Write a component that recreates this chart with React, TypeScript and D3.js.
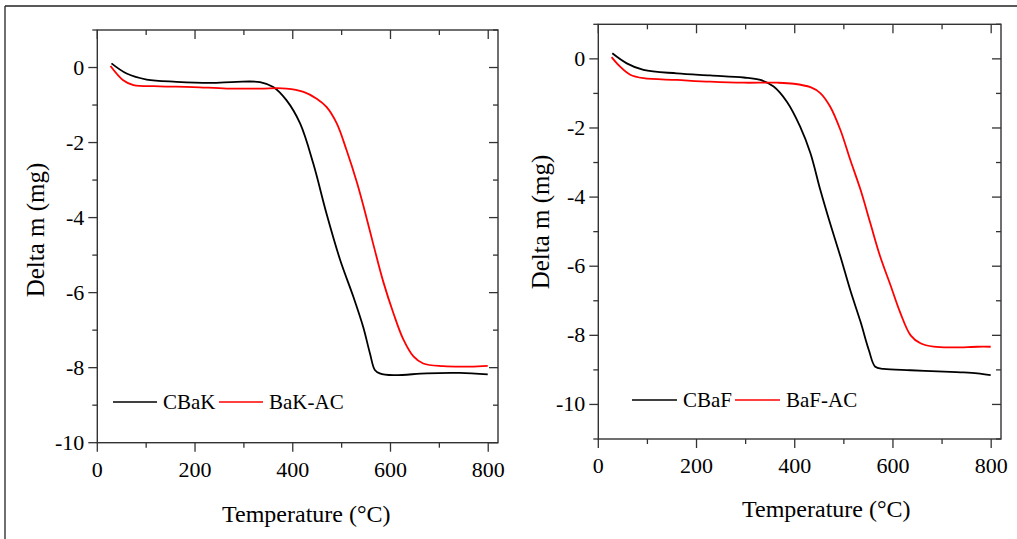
import React from "react";
import * as d3 from "d3";

const cbakT = [29, 60, 101, 162, 231, 285, 333, 360, 387, 415, 442, 469, 497, 524, 544, 558, 568, 578, 606, 674, 742, 799];
const cbakM = [0.11, -0.16, -0.32, -0.38, -0.41, -0.38, -0.39, -0.52, -0.87, -1.49, -2.56, -3.89, -5.13, -6.11, -6.91, -7.62, -8.06, -8.15, -8.2, -8.15, -8.14, -8.18];
const bakacT = [27, 53, 74, 128, 196, 265, 333, 387, 422, 449, 469, 490, 510, 531, 544, 565, 585, 606, 626, 647, 667, 708, 763, 799];
const bakacM = [0.04, -0.34, -0.47, -0.5, -0.52, -0.56, -0.56, -0.56, -0.65, -0.83, -1.05, -1.49, -2.2, -3.05, -3.66, -4.72, -5.7, -6.55, -7.24, -7.7, -7.89, -7.96, -7.97, -7.95];
const cbafT = [28.5, 58, 92, 160, 228, 296, 330, 357, 384, 411, 432, 452, 472, 493, 513, 534, 551, 564, 581, 636, 704, 738, 772, 799];
const cbafM = [0.16, -0.13, -0.32, -0.42, -0.48, -0.54, -0.61, -0.8, -1.24, -1.96, -2.73, -3.79, -4.76, -5.72, -6.69, -7.61, -8.43, -8.91, -8.97, -9.01, -9.05, -9.07, -9.1, -9.15];
const bafacT = [27, 44, 65, 92, 160, 228, 296, 364, 398, 432, 452, 472, 493, 513, 534, 554, 574, 595, 615, 636, 656, 683, 724, 772, 799];
const bafacM = [0.05, -0.22, -0.46, -0.56, -0.61, -0.66, -0.69, -0.69, -0.72, -0.82, -0.99, -1.38, -2.06, -2.92, -3.79, -4.76, -5.72, -6.55, -7.35, -8.0, -8.23, -8.33, -8.35, -8.33, -8.33];

const xMajor = [0, 200, 400, 600, 800];
const xMinor = [100, 300, 500, 700];
const yMajor = [0, -2, -4, -6, -8, -10];

const FONT = "'Times New Roman', 'Liberation Serif', Times, serif";
const AX = "#333";

type Panel = {
  left: number; right: number; top: number; bottom: number;
  yDomain: [number, number];
  yMinor: number[];
  series: { t: number[]; m: number[]; color: string; name: string }[];
  legend: { y: number; x0: number; gap: number; lineW: number; textW: number[] };
  xTitle: { dx: number; y: number };
  yTitle: { x: number; y: number };
};

const panels: Panel[] = [
  {
    left: 97.3, right: 498, top: 30, bottom: 442.7,
    yDomain: [-10, 1],
    yMinor: [-9, -7, -5, -3, -1, 1],
    series: [
      { t: cbakT, m: cbakM, color: "#000", name: "CBaK" },
      { t: bakacT, m: bakacM, color: "#f00", name: "BaK-AC" },
    ],
    legend: { y: 402, x0: 113, gap: 6, lineW: 44, textW: [50, 72] },
    xTitle: { dx: 209, y: 522 },
    yTitle: { x: 44, y: 230 },
  },
  {
    left: 598.3, right: 1001, top: 24.3, bottom: 439,
    yDomain: [-11, 1],
    yMinor: [-11, -9, -7, -5, -3, -1, 1],
    series: [
      { t: cbafT, m: cbafM, color: "#000", name: "CBaF" },
      { t: bafacT, m: bafacM, color: "#f00", name: "BaF-AC" },
    ],
    legend: { y: 400, x0: 632, gap: 6, lineW: 45, textW: [46, 70] },
    xTitle: { dx: 228, y: 517 },
    yTitle: { x: 549, y: 222 },
  },
];

function PanelView({ p }: { p: Panel }) {
  const x = d3.scaleLinear().domain([0, 820]).range([p.left, p.right]);
  const y = d3.scaleLinear().domain(p.yDomain).range([p.bottom, p.top]);
  const line = d3.line<[number, number]>().x((d) => x(d[0])).y((d) => y(d[1])).curve(d3.curveCatmullRom.alpha(0.5));
  const MAJ = 9, MIN = 5;
  let lx = p.legend.x0;
  const legendItems = p.series.map((s, i) => {
    const item = { x1: lx, x2: lx + p.legend.lineW, tx: lx + p.legend.lineW + p.legend.gap, s };
    lx = item.tx + p.legend.textW[i] + p.legend.gap;
    return item;
  });
  return (
    <g>
      {p.series.map((s, i) => (
        <path key={i} d={line(s.t.map((t, j) => [t, s.m[j]]) as [number, number][]) || ""} fill="none" stroke={s.color} strokeWidth={1.8} />
      ))}
      <rect x={p.left} y={p.top} width={p.right - p.left} height={p.bottom - p.top} fill="none" stroke={AX} strokeWidth={1.4} />
      {xMajor.map((v) => (
        <g key={"xm" + v}>
          <line x1={x(v)} x2={x(v)} y1={p.bottom} y2={p.bottom + MAJ} stroke={AX} strokeWidth={1.3} />
          <line x1={x(v)} x2={x(v)} y1={p.top} y2={p.top + MAJ} stroke={AX} strokeWidth={1.3} />
          <text x={x(v)} y={p.bottom + 34} textAnchor="middle" fontFamily={FONT} fontSize={22} fill="#000">{v}</text>
        </g>
      ))}
      {xMinor.map((v) => (
        <g key={"xn" + v}>
          <line x1={x(v)} x2={x(v)} y1={p.bottom} y2={p.bottom + MIN} stroke={AX} strokeWidth={1.3} />
          <line x1={x(v)} x2={x(v)} y1={p.top} y2={p.top + MIN} stroke={AX} strokeWidth={1.3} />
        </g>
      ))}
      {yMajor.map((v) => (
        <g key={"ym" + v}>
          <line x1={p.left - MAJ} x2={p.left} y1={y(v)} y2={y(v)} stroke={AX} strokeWidth={1.3} />
          <line x1={p.right - MAJ} x2={p.right} y1={y(v)} y2={y(v)} stroke={AX} strokeWidth={1.3} />
          <text x={p.left - 13} y={y(v) + 7} textAnchor="end" fontFamily={FONT} fontSize={22} fill="#000">{String(v)}</text>
        </g>
      ))}
      {p.yMinor.map((v) => (
        <g key={"yn" + v}>
          <line x1={p.left - MIN} x2={p.left} y1={y(v)} y2={y(v)} stroke={AX} strokeWidth={1.3} />
          <line x1={p.right - MIN} x2={p.right} y1={y(v)} y2={y(v)} stroke={AX} strokeWidth={1.3} />
        </g>
      ))}
      {legendItems.map((it, i) => (
        <g key={"lg" + i}>
          <line x1={it.x1} x2={it.x2} y1={p.legend.y} y2={p.legend.y} stroke={it.s.color} strokeWidth={1.6} />
          <text x={it.tx} y={p.legend.y + 7} fontFamily={FONT} fontSize={21} fill="#000">{it.s.name}</text>
        </g>
      ))}
      <text x={p.left + p.xTitle.dx} y={p.xTitle.y} textAnchor="middle" fontFamily={FONT} fontSize={24} fill="#000">Temperature (°C)</text>
      <text transform={`translate(${p.yTitle.x},${p.yTitle.y}) rotate(-90)`} textAnchor="middle" fontFamily={FONT} fontSize={25} fill="#000">Delta m (mg)</text>
    </g>
  );
}

export default function App() {
  return (
    <div style={{ position: "fixed", left: 0, top: 0 }}>
      <svg width={1017} height={539} style={{ display: "block", background: "#fff" }}>
        <line x1={5} x2={1017} y1={6} y2={6} stroke="#222" strokeWidth={1.3} />
        <line x1={5} x2={5} y1={6} y2={539} stroke="#222" strokeWidth={1.3} />
        {panels.map((p, i) => (
          <PanelView key={i} p={p} />
        ))}
      </svg>
    </div>
  );
}
